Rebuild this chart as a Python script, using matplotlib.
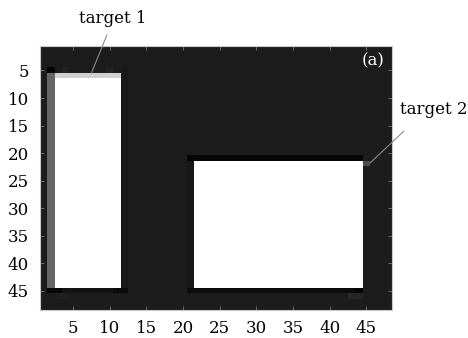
import numpy as np
import matplotlib
matplotlib.use("Agg")
import matplotlib.pyplot as plt

# ---- data: image of 48x48 cells (1-based rows/cols, inclusive ranges) ----
n_rows = 48
n_cols = 48
background_level = 0.11
# (row_start, row_end, col_start, col_end, gray level)
patch_rows_start = [5, 6, 6, 7, 5, 45, 45, 45, 46, 21, 22, 22, 21, 45, 45, 46, 22, 5, 5]
patch_rows_end   = [45, 44, 6, 44, 5, 45, 45, 45, 46, 21, 44, 44, 21, 45, 45, 46, 22, 5, 5]
patch_cols_start = [12, 2, 3, 3, 2, 2, 2, 11, 3, 21, 21, 22, 22, 21, 44, 43, 45, 4, 10]
patch_cols_end   = [12, 2, 11, 11, 2, 12, 3, 12, 4, 44, 21, 44, 44, 44, 44, 44, 45, 4, 10]
patch_levels     = [0.095, 0.40, 0.82, 1.0, 0.02, 0.075, 0.03, 0.04, 0.13, 0.02, 0.095, 1.0, 0.03, 0.05, 0.02, 0.15, 0.30, 0.14, 0.14]

x_ticks = [5, 10, 15, 20, 25, 30, 35, 40, 45]
y_ticks = [5, 10, 15, 20, 25, 30, 35, 40, 45]
label_panel = "(a)"
label_t1 = "target 1"
label_t2 = "target 2"
t1_tip = (7.5, 5.5)
t2_tip = (45.5, 21.8)

img = np.full((n_rows, n_cols), background_level)
for r0, r1, c0, c1, v in zip(patch_rows_start, patch_rows_end,
                             patch_cols_start, patch_cols_end, patch_levels):
    img[r0 - 1:r1, c0 - 1:c1] = v

plt.rcParams['font.family'] = ['DejaVu Serif']
fig = plt.figure(figsize=(4.68, 3.38), dpi=100)
ax = fig.add_axes([0.0855, 0.0828, 0.7521, 0.7820])
ax.imshow(img, cmap='gray', vmin=0, vmax=1, interpolation='nearest',
          extent=[0.5, n_cols + 0.5, n_rows + 0.5, 0.5], aspect='auto')
ax.set_xticks(x_ticks)
ax.set_yticks(y_ticks)
ax.tick_params(direction='in', length=3, width=0.6, color='#777777',
               top=True, right=True, labelsize=12, labelcolor='black')
ax.tick_params(axis='y', pad=8)
ax.tick_params(axis='x', pad=7)
for s in ax.spines.values():
    s.set_color('#c8c8c8')
    s.set_linewidth(0.8)

ax.text(0.945, 0.944, label_panel, transform=ax.transAxes, color='white',
        ha='center', va='center', fontsize=12)

ax.text(0.206, 1.103, label_t1, transform=ax.transAxes, ha='center',
        va='center', fontsize=12, clip_on=False)
ax.annotate('', xy=t1_tip, xycoords='data', xytext=(0.190, 1.0405),
            textcoords='axes fraction',
            arrowprops=dict(arrowstyle='-', color='#8a8a8a', lw=0.8,
                            shrinkA=0, shrinkB=0), annotation_clip=False)

ax.text(1.118, 0.758, label_t2, transform=ax.transAxes, ha='center',
        va='center', fontsize=12, clip_on=False)
ax.annotate('', xy=t2_tip, xycoords='data', xytext=(1.034, 0.677),
            textcoords='axes fraction',
            arrowprops=dict(arrowstyle='-', color='#8a8a8a', lw=0.8,
                            shrinkA=0, shrinkB=0), annotation_clip=False)

fig.savefig('out.png', dpi=100)
